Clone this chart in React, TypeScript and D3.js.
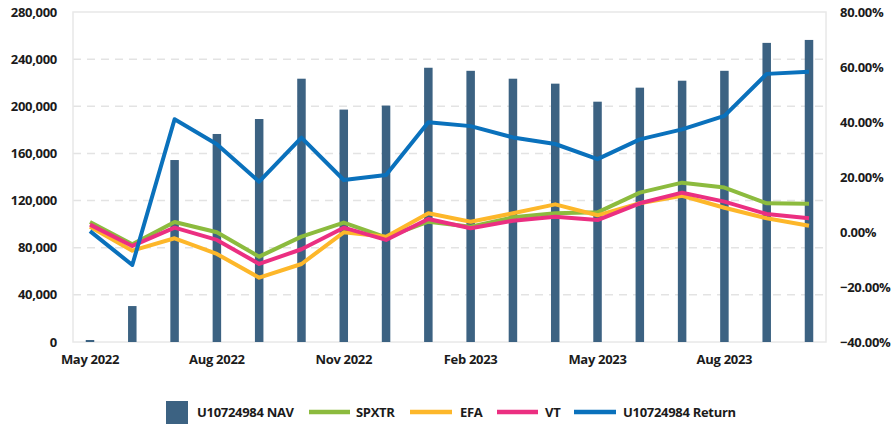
import React from "react";
import * as d3 from "d3";

const months = [
  "May 2022", "Jun 2022", "Jul 2022", "Aug 2022", "Sep 2022", "Oct 2022",
  "Nov 2022", "Dec 2022", "Jan 2023", "Feb 2023", "Mar 2023", "Apr 2023",
  "May 2023", "Jun 2023", "Jul 2023", "Aug 2023", "Sep 2023", "Oct 2023",
];
const shownLabels = ["May 2022", "Aug 2022", "Nov 2022", "Feb 2023", "May 2023", "Aug 2023"];

const navValues = [
  1700, 30500, 154400, 176500, 189200, 223400, 197200, 200600, 232700,
  230100, 223400, 219200, 203900, 215800, 221700, 230100, 253800, 256300,
];
const spxtr = [
  101800, 82900, 101800, 93100, 72400, 89400, 101300, 88800, 102100,
  97800, 105800, 109200, 110000, 126700, 135200, 131000, 117700, 117400,
];
const efa = [
  97800, 77500, 88000, 74700, 54600, 66200, 93100, 89400, 109200,
  102100, 109200, 116800, 107500, 117700, 124100, 113900, 105000, 98700,
];
const vt = [
  99600, 81500, 97000, 86600, 66200, 78700, 97000, 86600, 104400,
  96500, 102900, 106300, 103500, 117700, 126700, 119100, 108600, 105000,
];
const returnPct = [
  0.3, -12.0, 41.0, 31.9, 18.3, 34.3, 18.9, 20.7, 39.9,
  38.5, 34.4, 32.0, 26.5, 33.7, 37.3, 42.2, 57.5, 58.3,
];

const leftTicks = [0, 40000, 80000, 120000, 160000, 200000, 240000, 280000];
const rightTicks = [-40, -20, 0, 20, 40, 60, 80];

const W = 892;
const H = 425;
const plot = { left: 73, right: 826, top: 12, bottom: 342 };

const COLORS = {
  nav: "#3c6282",
  spxtr: "#8cbb3e",
  efa: "#fdb72a",
  vt: "#eb2f81",
  ret: "#0a71bc",
  text: "#1b1b1b",
  grid: "#e3e3e3",
  frame: "#e8e8e8",
};

const FONT = "'Open Sans', 'Noto Sans', sans-serif";

export default function App() {
  const x = d3.scalePoint<string>().domain(months).range([90, 809]);
  const yL = d3.scaleLinear().domain([0, 280000]).range([plot.bottom, plot.top]);
  const yR = d3.scaleLinear().domain([-40, 80]).range([plot.bottom, plot.top]);
  const fmtL = d3.format(",");
  const fmtR = (v: number) => d3.format(".2f")(v) + "%";

  const lineL = (vals: number[]) =>
    d3.line<number>().x((_, i) => x(months[i])!).y((d) => yL(d))(vals) || "";
  const lineR = (vals: number[]) =>
    d3.line<number>().x((_, i) => x(months[i])!).y((d) => yR(d))(vals) || "";

  const barW = 8.5;

  const legendY = 412;
  const legendItems = [
    { type: "line", color: COLORS.spxtr, label: "SPXTR", x0: 309, x1: 350, tx: 356 },
    { type: "line", color: COLORS.efa, label: "EFA", x0: 410, x1: 452, tx: 460 },
    { type: "line", color: COLORS.vt, label: "VT", x0: 497, x1: 538, tx: 545 },
    { type: "line", color: COLORS.ret, label: "U10724984 Return", x0: 574, x1: 616, tx: 623 },
  ];

  return (
    <svg
      width={W}
      height={H}
      style={{ position: "absolute", left: 0, top: 0, background: "#fff" }}
      fontFamily={FONT}
    >
      {/* grid lines */}
      {leftTicks.slice(1, -1).map((t) => (
        <line
          key={"g" + t}
          x1={plot.left}
          x2={plot.right}
          y1={yL(t)}
          y2={yL(t)}
          stroke={COLORS.grid}
          strokeWidth={1.5}
          strokeDasharray="8,6"
        />
      ))}
      {/* frame */}
      <rect
        x={plot.left}
        y={plot.top}
        width={plot.right - plot.left}
        height={plot.bottom - plot.top}
        fill="none"
        stroke={COLORS.frame}
        strokeWidth={1.5}
      />
      {/* bars */}
      {navValues.map((v, i) => (
        <rect
          key={"b" + i}
          x={x(months[i])! - barW / 2}
          y={yL(v)}
          width={barW}
          height={yL(0) - yL(v)}
          fill={COLORS.nav}
        />
      ))}
      {/* lines */}
      <path d={lineL(spxtr)} fill="none" stroke={COLORS.spxtr} strokeWidth={4} strokeLinejoin="round" />
      <path d={lineL(efa)} fill="none" stroke={COLORS.efa} strokeWidth={4} strokeLinejoin="round" />
      <path d={lineL(vt)} fill="none" stroke={COLORS.vt} strokeWidth={4} strokeLinejoin="round" />
      <path d={lineR(returnPct)} fill="none" stroke={COLORS.ret} strokeWidth={4} strokeLinejoin="round" />

      {/* left axis */}
      {leftTicks.map((t) => (
        <text
          key={"l" + t}
          x={57}
          y={yL(t)}
          dy="0.35em"
          textAnchor="end"
          fontSize={13}
          fontWeight={700}
          fill={COLORS.text}
          letterSpacing={-0.3}
        >
          {fmtL(t)}
        </text>
      ))}
      {/* right axis */}
      {rightTicks.map((t) => (
        <text
          key={"r" + t}
          x={840}
          y={yR(t)}
          dy="0.35em"
          textAnchor="start"
          fontSize={13}
          fontWeight={700}
          fill={COLORS.text}
          letterSpacing={-0.3}
        >
          {fmtR(t)}
        </text>
      ))}
      {/* x axis labels */}
      {shownLabels.map((m) => (
        <text
          key={"x" + m}
          x={x(m)!}
          y={364}
          textAnchor="middle"
          fontSize={13}
          fontWeight={700}
          fill={COLORS.text}
          letterSpacing={-0.3}
        >
          {m}
        </text>
      ))}

      {/* legend */}
      <rect x={166} y={401} width={22} height={23} fill={COLORS.nav} />
      <text x={197} y={legendY} dy="0.35em" fontSize={13} fontWeight={700} fill={COLORS.text} letterSpacing={-0.3}>
        U10724984 NAV
      </text>
      {legendItems.map((it) => (
        <g key={it.label}>
          <line x1={it.x0} x2={it.x1} y1={legendY} y2={legendY} stroke={it.color} strokeWidth={4.5} />
          <text x={it.tx} y={legendY} dy="0.35em" fontSize={13} fontWeight={700} fill={COLORS.text} letterSpacing={-0.3}>
            {it.label}
          </text>
        </g>
      ))}
    </svg>
  );
}
